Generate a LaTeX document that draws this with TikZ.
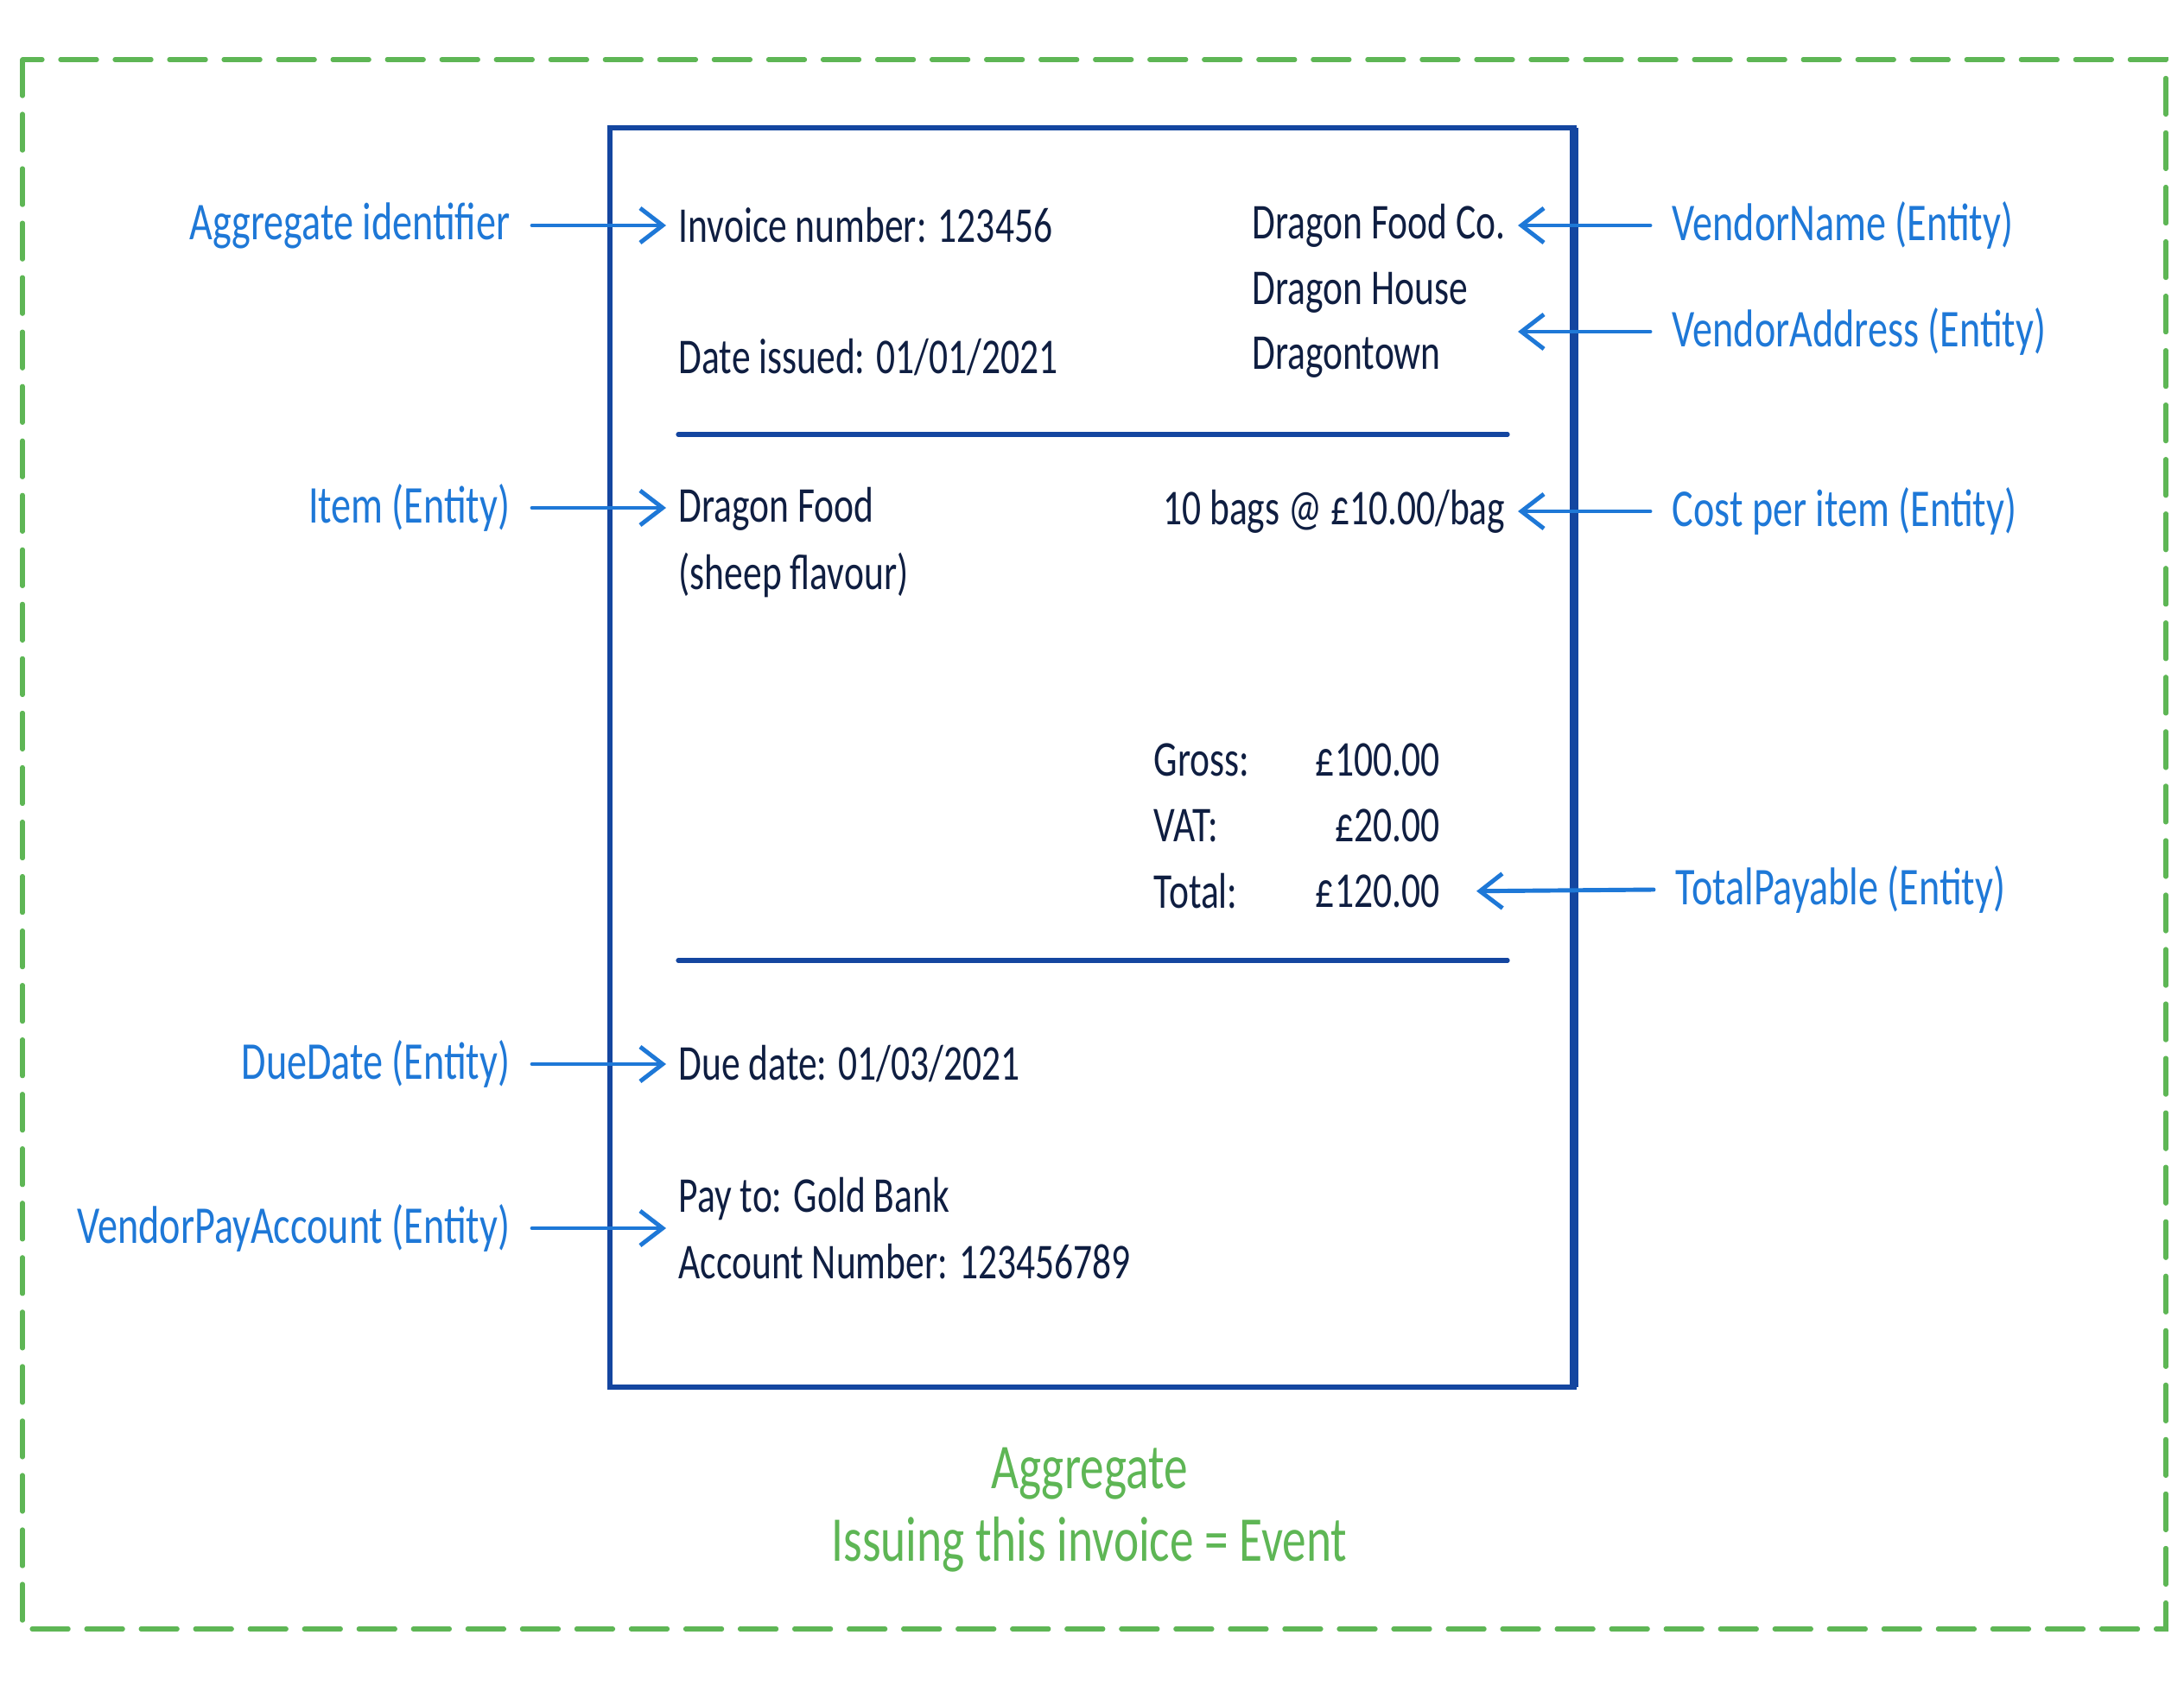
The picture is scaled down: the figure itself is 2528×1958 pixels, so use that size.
\documentclass[tikz,border=0pt]{standalone}
\usepackage{fontspec}
\setmainfont{Carlito}[FakeStretch=0.75]
\usetikzlibrary{arrows.meta,positioning,calc}

\definecolor{aggreen}{HTML}{5EB655}
\definecolor{entblue}{HTML}{1E78D7}
\definecolor{paperblue}{HTML}{1446A0}
\definecolor{inkblue}{HTML}{0F1E41}

\begin{document}
\begin{tikzpicture}[x=0.01cm, y=-0.01cm,
  font=\fontsize{16.5}{22}\selectfont,
  txt/.style={text=inkblue, inner xsep=0.14cm, inner ysep=0pt},
  lbl/.style={text=entblue, font=\fontsize{17.5}{22}\selectfont, inner xsep=0.25cm, inner ysep=0pt},
  sum/.style={text=aggreen, font=\fontsize{21}{24}\selectfont, align=center},
  arrow/.style={entblue, line width=1.4pt, line cap=round, -{Straight Barb[length=2.6mm,width=4mm,line width=1.4pt]}},
  rule/.style={paperblue, line width=1.5pt, line cap=round}
]
\useasboundingbox (0,0) rectangle (2528,1958);
% aggregate boundary
\draw[aggreen, line width=1.5pt, line cap=round, dash pattern=on 0.42cm off 0.21cm] (26,69) rectangle (2507,1886);
% the invoice sheet
\draw[paperblue, line width=1.8pt] (706,148) rectangle (1822,1606);
\draw[paperblue, line width=2.6pt] (1822,148) -- (1822,1606);
\draw[rule] (785,503) -- (1745,503);
\draw[rule] (785,1112) -- (1745,1112);

% invoice contents
\node[txt, anchor=west] (invno) at (771,261) {Invoice number: 123456};
\node[txt, anchor=west] (issued) at (771,414) {Date issued: 01/01/2021};
\node[txt, anchor=east] (vco) at (1757,261) {Dragon Food Co.};
\node[txt, anchor=west] (vhouse) at ($(vco.west)+(0,78)$) {Dragon House};
\node[txt, anchor=west] (vtown) at ($(vhouse.west)+(0,75)$) {Dragontown};
\node[txt, anchor=west, align=left] (food) at (771,628) {Dragon Food\\(sheep flavour)};
\node[txt, anchor=east] (bags) at (1757,592) {10 bags @ £10.00/bag};
\node[txt, anchor=west] (gross) at (1321,880) {Gross:};
\node[txt, anchor=west] (vat) at (1321,956) {VAT:};
\node[txt, anchor=west] (total) at (1321,1032) {Total:};
\node[txt, anchor=east] (grossval) at (1681,880) {£100.00};
\node[txt, anchor=east] (vatval) at (1681,956) {£20.00};
\node[txt, anchor=east] (totval) at (1681,1032) {£120.00};
\node[txt, anchor=west] (due) at (771,1232) {Due date: 01/03/2021};
\node[txt, anchor=west, align=left] (payto) at (771,1422) {Pay to: Gold Bank\\Account Number: 123456789};

% entity labels
\node[lbl, anchor=east] (aggid) at (616,261) {Aggregate identifier};
\node[lbl, anchor=east] (item) at (616,588) {Item (Entity)};
\node[lbl, anchor=east] (duelbl) at (616,1232) {DueDate (Entity)};
\node[lbl, anchor=east] (payacc) at (616,1422) {VendorPayAccount (Entity)};
\node[lbl, anchor=west] (vname) at (1910,261) {VendorName (Entity)};
\node[lbl, anchor=west] (vaddr) at (1910,384) {VendorAddress (Entity)};
\node[lbl, anchor=west] (costlbl) at (1910,592) {Cost per item (Entity)};
\node[lbl, anchor=west] (tpay) at (1914,1030) {TotalPayable (Entity)};

\draw[arrow] (aggid.east) -- (invno.west);
\draw[arrow] (item.east) -- (item.east -| food.west);
\draw[arrow] (duelbl.east) -- (due.west);
\draw[arrow] (payacc.east) -- (payto.west);
\draw[arrow] (vname.west) -- (vco.east);
\draw[arrow] (vaddr.west) -- (vaddr.west -| vco.east);
\draw[arrow] (costlbl.west) -- (bags.east);
\draw[arrow, shorten >=0.28cm] (tpay.west) -- (totval.east);

% aggregate caption
\node[sum] (aggnote) at (1261,1748) {Aggregate\\Issuing this invoice = Event};
\end{tikzpicture}
\end{document}
